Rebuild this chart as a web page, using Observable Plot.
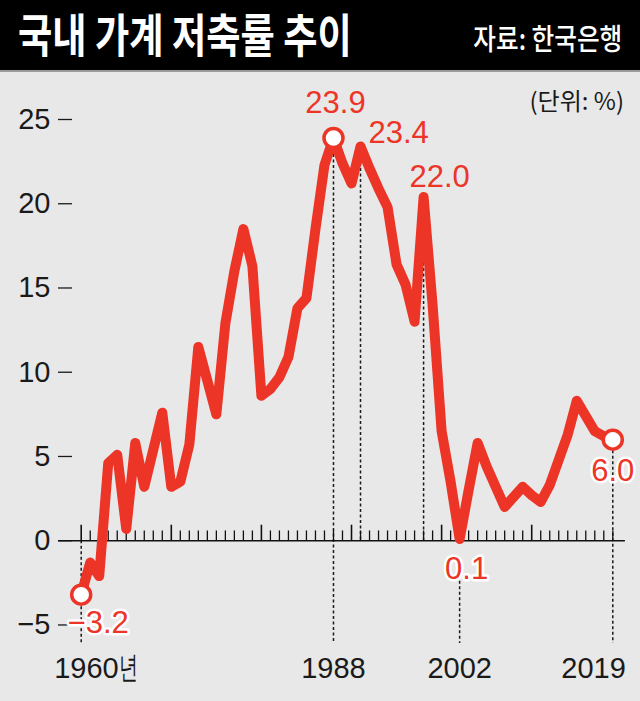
<!DOCTYPE html>
<html><head><meta charset="utf-8">
<script src="https://cdn.jsdelivr.net/npm/d3@7"></script>
<script src="https://cdn.jsdelivr.net/npm/@observablehq/plot@0.6"></script>
<style>
html,body{margin:0;padding:0;background:#e8e8e8;}
#wrap{width:640px;height:701px;position:relative;overflow:hidden;background:#e8e8e8}
#head{position:relative;height:70px;background:#000;border-bottom:2px solid #9b9b9b;}
#title{position:absolute;left:18px;top:9px;font-family:"Noto Sans CJK KR";font-weight:700;font-size:46px;line-height:46px;color:#fff;transform:scaleX(0.81);transform-origin:left top;white-space:nowrap}
#src{position:absolute;right:18px;top:23px;font-family:"Noto Sans CJK KR";font-weight:500;font-size:29px;line-height:29px;color:#fff;transform:scaleX(0.85);transform-origin:right top;white-space:nowrap}
#unit{position:absolute;right:16px;top:88px;font-family:"Liberation Sans Narrow","Noto Sans CJK KR",sans-serif;font-size:24px;line-height:24px;color:#1a1a1a;white-space:nowrap}
#chart svg{display:block}
</style></head><body>
<div id="wrap">
  <div id="head"><span id="title">국내 가계 저축률 추이</span><span id="src">자료: 한국은행</span></div>
  <div id="chart"></div>
  <div id="unit">(단위: %)</div>
</div>
<script>
const years = d3.range(1960, 2020);
const rates = [
  -3.2, -1.3, -2.1, 4.6, 5.1, 0.7, 5.8, 3.2, 5.4, 7.6,
  3.2, 3.5, 5.7, 11.5, 9.5, 7.5, 12.9, 16.0, 18.5, 16.3,
  8.6, 9.0, 9.7, 10.9, 13.8, 14.4, 18.5, 22.3, 23.9, 22.4,
  21.2, 23.4, 22.1, 20.9, 19.8, 16.4, 15.2, 13.0, 20.4, 14.0,
  6.5, 3.5, 0.1, 3.0, 5.8, 4.4, 3.2, 2.0, 2.6, 3.2,
  2.7, 2.3, 3.3, 4.8, 6.3, 8.3, 7.4, 6.5, 6.2, 6.0
];
const yTicks = [-5, 0, 5, 10, 15, 20, 25];
const markedYears = [1960, 1988, 2019];
const annoYears = [1988, 1991, 1998, 1960, 2002, 2019];
const annoTexts = ["23.9", "23.4", "22.0", "−3.2", "0.1", "6.0"];
const xLabelYears = [1960, 1988, 2002, 2019];
const xLabelTexts = ["1960년", "1988", "2002", "2019"];

const data = years.map((year, i) => ({year, rate: rates[i]}));
const rateOf = y => rates[years.indexOf(y)];
const yMin = -6.1, yMax = 25;
const axisStart = 1957.5, axisEnd = 2020.4;

const red = "#ec3527";
const numFont = "Liberation Sans Narrow, Liberation Sans, sans-serif";
const labFont = "Liberation Sans, Arial, sans-serif";

const guides = [
  {year: 1960, y1: 0, y2: yMin},
  {year: 1988, y1: rateOf(1988), y2: yMin},
  {year: 1991, y1: rateOf(1991), y2: 0},
  {year: 1998, y1: rateOf(1998), y2: 0},
  {year: 2002, y1: -2.4, y2: yMin},
  {year: 2019, y1: rateOf(2019), y2: yMin}
];

const layout = [
  {anchor: "middle", dx: 2, dy: -25, halo: false},
  {anchor: "start", dx: 8, dy: -3, halo: false},
  {anchor: "middle", dx: 16, dy: -10, halo: false},
  {anchor: "middle", dx: 17, dy: 38, halo: true},
  {anchor: "middle", dx: 7, dy: 40, halo: true},
  {anchor: "middle", dx: 0, dy: 41, halo: true}
];
const annoMarks = annoYears.map((yr, i) => {
  const L = layout[i];
  return Plot.text([{year: yr, rate: rateOf(yr), t: annoTexts[i]}], {
    x: "year", y: "rate", text: "t",
    textAnchor: L.anchor, lineAnchor: "bottom", dx: L.dx, dy: L.dy,
    fill: red, fontSize: 31, fontFamily: labFont,
    ...(L.halo ? {stroke: "white", strokeWidth: 5, paintOrder: "stroke", strokeLinejoin: "round"} : {})
  });
});

const xLabLayout = [
  {anchor: "start", dx: -27},
  {anchor: "middle", dx: 0},
  {anchor: "middle", dx: 0},
  {anchor: "end", dx: 13}
];
const xLabMarks = xLabelYears.map((yr, i) => Plot.text([{year: yr, t: xLabelTexts[i]}], {
  x: "year", text: "t", frameAnchor: "bottom", lineAnchor: "bottom",
  dy: 34, dx: xLabLayout[i].dx, textAnchor: xLabLayout[i].anchor,
  fontSize: 29, fontFamily: numFont, fill: "#1a1a1a"
}));

const chart = Plot.plot({
  width: 640,
  height: 629,
  marginLeft: 80.7,
  marginRight: 27.7,
  marginTop: 47,
  marginBottom: 58,
  style: {background: "#e8e8e8", overflow: "visible"},
  x: {domain: [1960, 2019], axis: null},
  y: {domain: [yMin, yMax], axis: null},
  marks: [
    Plot.axisY({ticks: yTicks, tickSize: 14, tickPadding: 8, dx: -8.7,
      fontSize: 29, fontFamily: numFont, fill: "#1a1a1a", stroke: "#1a1a1a", strokeWidth: 1.3,
      tickFormat: d => d < 0 ? "−" + (-d) : String(d)}),
    Plot.ruleX(guides, {x: "year", y1: "y1", y2: "y2", stroke: "#1a1a1a", strokeWidth: 1.5, strokeDasharray: "3,2.5"}),
    Plot.ruleY([0], {x1: axisStart, x2: axisEnd, stroke: "#111", strokeWidth: 1.6}),
    Plot.ruleX(years.filter(y => y % 10 !== 0), {x: d => d, y1: 0, y2: 0.58, stroke: "#111", strokeWidth: 1.3}),
    Plot.ruleX(years.filter(y => y % 10 === 0), {x: d => d, y1: 0, y2: 0.92, stroke: "#111", strokeWidth: 1.6}),
    Plot.line(data, {x: "year", y: "rate", stroke: red, strokeWidth: 10, strokeLinejoin: "round", strokeLinecap: "round"}),
    Plot.dot(data.filter(d => markedYears.includes(d.year)), {x: "year", y: "rate", r: 9.5, fill: "white", stroke: red, strokeWidth: 3.5}),
    ...annoMarks,
    ...xLabMarks
  ]
});
// condense only the "년" of the first x label, as in the reference
d3.select(chart).selectAll("text").filter(function() { return this.textContent === "1960년"; })
  .each(function() {
    const t = d3.select(this);
    t.text("1960");
    t.append("tspan").text("년").attr("font-size", 31)
      .attr("textLength", 19).attr("lengthAdjust", "spacingAndGlyphs");
  });
document.getElementById("chart").appendChild(chart);
</script>
</body></html>
